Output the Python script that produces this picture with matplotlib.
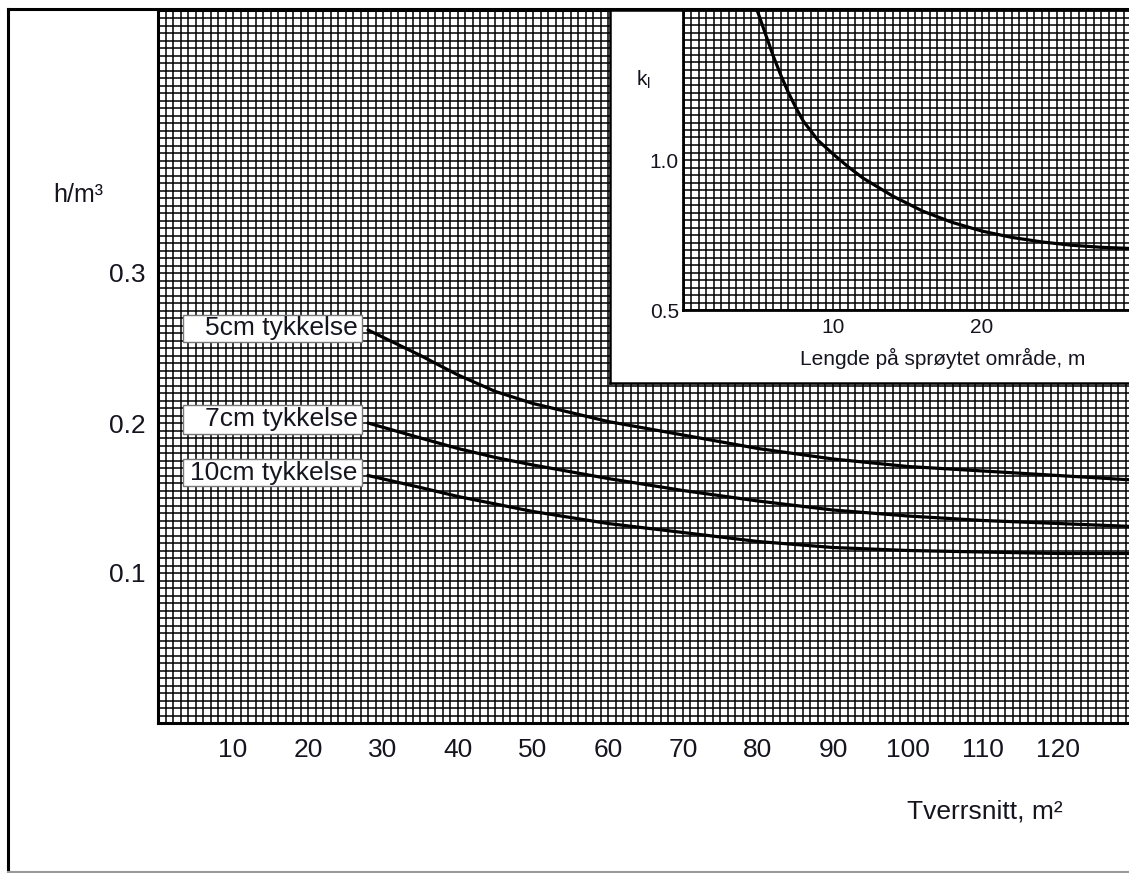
import matplotlib
matplotlib.use("Agg")
import matplotlib.pyplot as plt
from matplotlib.ticker import MultipleLocator
from matplotlib.patches import Rectangle
from matplotlib.lines import Line2D

plt.rcParams['font.family'] = ['Liberation Sans', 'DejaVu Sans']
plt.rcParams['mathtext.fontset'] = 'custom'
plt.rcParams['mathtext.rm'] = 'Liberation Sans'
plt.rcParams['mathtext.it'] = 'Liberation Sans'

# main chart data: cross section (m2) vs h/m3
tverrsnitt = [28, 35, 40, 45, 50, 60, 70, 80, 90, 100, 110, 120, 130]
tykk_5cm = [0.262, 0.245, 0.232, 0.221, 0.213, 0.201, 0.192, 0.183, 0.176, 0.171, 0.168, 0.165, 0.162]
tykk_7cm = [0.200, 0.190, 0.183, 0.177, 0.172, 0.163, 0.155, 0.148, 0.142, 0.138, 0.135, 0.133, 0.131]
tykk_10cm = [0.165, 0.157, 0.151, 0.146, 0.141, 0.133, 0.127, 0.121, 0.117, 0.115, 0.114, 0.113, 0.113]
serie_navn = ['5cm tykkelse', '7cm tykkelse', '10cm tykkelse']
x_ticks = [10, 20, 30, 40, 50, 60, 70, 80, 90, 100, 110, 120]
y_ticks = [0.1, 0.2, 0.3]

# inset data: length of sprayed area vs k_l
lengde = [4.9, 5.5, 6, 6.5, 7, 7.5, 8, 9, 10, 11, 12, 14, 16, 18, 20, 22, 24, 26, 28, 30]
k_l = [1.50, 1.415, 1.345, 1.282, 1.225, 1.175, 1.13, 1.065, 1.02, 0.978, 0.94, 0.88, 0.83, 0.792, 0.763, 0.742, 0.727, 0.716, 0.709, 0.705]
inset_x_ticks = [10, 20]
inset_y_ticks = [0.5, 1.0]

W, H = 1129, 873
txt_col = '#151520'


def px_box(x0, y0, x1, y1):
    # pixel box (top-left origin) -> figure fraction rect
    return [x0 / W, (H - y1) / H, (x1 - x0) / W, (y1 - y0) / H]


def graph_paper(ax, xstep, ystep):
    ax.xaxis.set_minor_locator(MultipleLocator(xstep))
    ax.yaxis.set_minor_locator(MultipleLocator(ystep))
    ax.grid(which='both', color='black', linewidth=1.1)
    ax.set_axisbelow(True)
    ax.tick_params(which='both', length=0)


fig = plt.figure(figsize=(W / 100, H / 100), dpi=100)

# main axes
ax = fig.add_axes(px_box(158, 10, 1129, 723))
graph_paper(ax, 1, 0.005)
ax.set_xlim(0, (1129 - 158) / 7.5)
ax.set_ylim(0, (723 - 10) / 1500)
ax.set_xticks(x_ticks)
ax.set_yticks(y_ticks)
ax.set_xticklabels([str(v) for v in x_ticks])
ax.set_yticklabels(['0.1', '0.2', '0.3'])
ax.tick_params(axis='x', pad=11, labelsize=19, labelcolor=txt_col)
ax.tick_params(axis='y', pad=9, labelsize=19, labelcolor=txt_col)
for s in ['left', 'bottom', 'top']:
    ax.spines[s].set_linewidth(2.2)
ax.spines['right'].set_visible(False)

for y, navn in zip([tykk_5cm, tykk_7cm, tykk_10cm], serie_navn):
    ax.plot(tverrsnitt, y, color='black', linewidth=2.3, solid_capstyle='round', zorder=3)

# label boxes
for navn, (yb, yt) in zip(serie_navn, [(0.254, 0.272), (0.193, 0.212), (0.158, 0.176)]):
    ax.add_patch(Rectangle((3.33, yb), 27.2 - 3.33, yt - yb, facecolor='white',
                           edgecolor='#777777', linewidth=1.0, zorder=4))
    ax.text(26.6, (yb + yt) / 2, navn, ha='right', va='center', fontsize=19,
            color=txt_col, zorder=5)

# inset frame
frame = fig.add_axes(px_box(610, 10, 1135, 383))
frame.set_xticks([])
frame.set_yticks([])
frame.set_facecolor('white')
for s in frame.spines.values():
    s.set_linewidth(1.8)

# inset axes
ins = fig.add_axes(px_box(683, 10, 1129, 310))
graph_paper(ins, 0.5, 0.025)
ins.set_xlim(-0.07, (1129 - 684) / 14.9)
ins.set_ylim(0.5, 1.5)
ins.set_xticks(inset_x_ticks)
ins.set_yticks(inset_y_ticks)
ins.set_yticklabels(['0.5', '1.0'])
ins.tick_params(axis='x', pad=6, labelsize=15, labelcolor=txt_col)
ins.tick_params(axis='y', pad=3, labelsize=15, labelcolor=txt_col)
for s in ['left', 'bottom', 'top']:
    ins.spines[s].set_linewidth(2.0)
ins.spines['right'].set_visible(False)
ins.plot(lengde, k_l, color='black', linewidth=2.3, zorder=3)
fig.text(943 / W, 1 - 358 / H, 'Lengde på sprøytet område, m', fontsize=15,
         ha='center', va='center', color=txt_col)
fig.text(643 / W, 1 - 80 / H, r'$\mathregular{k_l}$', fontsize=15, ha='center', va='center', color=txt_col)

# axis titles
fig.text(78 / W, 1 - 195 / H, 'h/m³', fontsize=18, ha='center', va='center', color=txt_col)
fig.text(985 / W, 1 - 812 / H, 'Tverrsnitt, m²', fontsize=19, ha='center', va='center', color=txt_col)

# outer frame
fig.add_artist(Line2D([8 / W, 8 / W], [1 - 9 / H, 1 - 872 / H], color='black', linewidth=2.2))
fig.add_artist(Line2D([8 / W, 1], [1 - 9 / H, 1 - 9 / H], color='black', linewidth=2.2))
fig.add_artist(Line2D([8 / W, 1], [1 - 872 / H, 1 - 872 / H], color='#999999', linewidth=1.5))

fig.savefig('out.png', dpi=100)
